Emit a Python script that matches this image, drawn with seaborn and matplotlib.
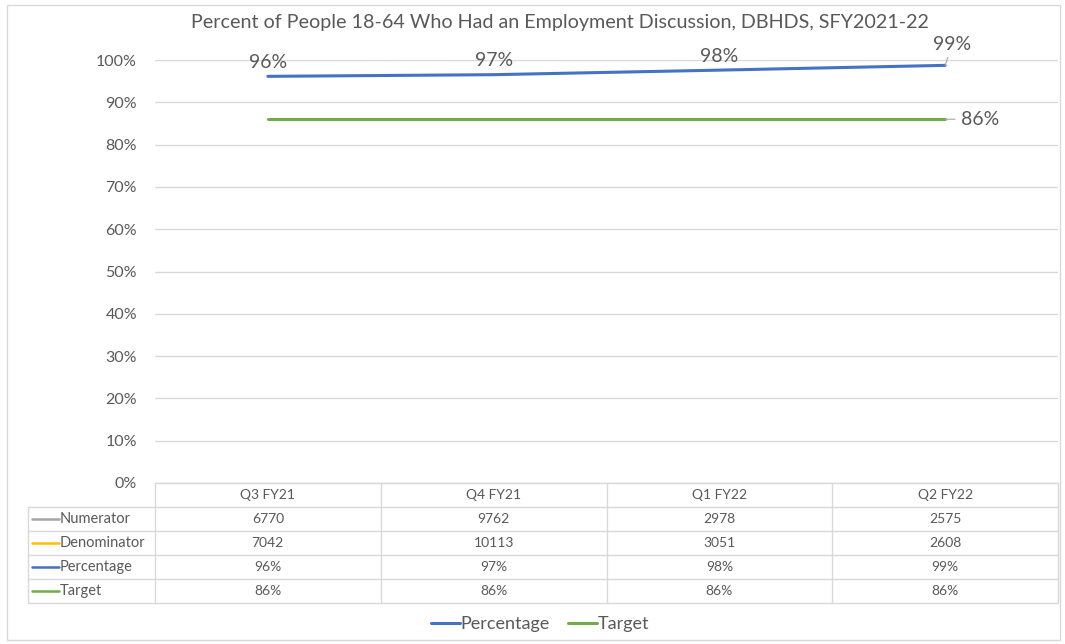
import matplotlib
matplotlib.use("Agg")
import matplotlib.pyplot as plt
import seaborn as sns
import pandas as pd
import numpy as np
from matplotlib.transforms import blended_transform_factory
from matplotlib.ticker import PercentFormatter
from matplotlib.patches import Rectangle
from matplotlib.lines import Line2D

# ---- data ----
quarters = ["Q3 FY21", "Q4 FY21", "Q1 FY22", "Q2 FY22"]
numerator = [6770, 9762, 2978, 2575]
denominator = [7042, 10113, 3051, 2608]
target = [0.86, 0.86, 0.86, 0.86]
percentage = [n / d for n, d in zip(numerator, denominator)]

title = "Percent of People 18-64 Who Had an Employment Discussion, DBHDS, SFY2021-22"
row_names = ["Numerator", "Denominator", "Percentage", "Target"]
row_colors = {"Numerator": "#a5a5a5", "Denominator": "#ffc000",
              "Percentage": "#4472c4", "Target": "#70ad47"}

TXT = "#595959"
GRID = "#d9d9d9"

sns.set_theme(style="white")
plt.rcParams["font.family"] = ["Lato", "DejaVu Sans"]

W, H = 1065, 644
fig = plt.figure(figsize=(W / 100, H / 100), dpi=100)
fig.patch.set_facecolor("white")

# pixel-space overlay for table, title and frame
ov = fig.add_axes([0, 0, 1, 1], zorder=0)
ov.set_xlim(0, W)
ov.set_ylim(H, 0)
ov.axis("off")
ov.patch.set_alpha(0)

# plot area
x0, x1, ytop, ybot = 155, 1058, 60, 483
ax = fig.add_axes([x0 / W, 1 - ybot / H, (x1 - x0) / W, (ybot - ytop) / H], zorder=2)
ax.patch.set_alpha(0)

df = pd.DataFrame({
    "Quarter": quarters * 2,
    "Series": ["Percentage"] * 4 + ["Target"] * 4,
    "Value": percentage + target,
})
sns.lineplot(data=df, x="Quarter", y="Value", hue="Series", sort=False,
             palette={"Percentage": row_colors["Percentage"], "Target": row_colors["Target"]},
             linewidth=2.2, ax=ax)

ax.set_xlim(-0.5, 3.5)
ax.set_ylim(0, 1)
ax.set_yticks(np.arange(0, 1.01, 0.1))
ax.yaxis.set_major_formatter(PercentFormatter(1, decimals=0))
ax.set_xticks([])
ax.set_xlabel("")
ax.set_ylabel("")
ax.yaxis.grid(True, color=GRID, linewidth=1)
ax.set_axisbelow(True)
for s in ax.spines.values():
    s.set_visible(False)
ax.tick_params(axis="y", length=0, pad=13, labelsize=11.5, labelcolor=TXT)

# data labels
for i, v in enumerate(percentage):
    if i < 3:
        ax.annotate(f"{v:.0%}", (i, v), xytext=(0, 14), textcoords="offset pixels",
                    ha="center", va="center", fontsize=14, color=TXT)
    else:
        ax.annotate(f"{v:.0%}", (i, v), xytext=(7, 21), textcoords="offset pixels",
                    ha="center", va="center", fontsize=14, color=TXT,
                    arrowprops=dict(arrowstyle="-", color="#a6a6a6", lw=0.8,
                                    shrinkA=1, shrinkB=9))
ax.annotate(f"{target[-1]:.0%}", (3, target[-1]), xytext=(35, 0), textcoords="offset pixels",
            ha="center", va="center", fontsize=14, color=TXT,
            arrowprops=dict(arrowstyle="-", color="#a6a6a6", lw=0.8,
                            shrinkA=2, shrinkB=15))

ov.text(560, 22, title, ha="center", va="center", fontsize=14.2, color=TXT)

# legend below table
sns.move_legend(ax, "center", bbox_to_anchor=(540 / W, 1 - 624 / H),
                bbox_transform=fig.transFigure, ncol=2, frameon=False, title=None,
                fontsize=13, handlelength=1.6, handletextpad=0.05, columnspacing=1.0)
for t in ax.get_legend().get_texts():
    t.set_color(TXT)

# ---- data table ----
bt = blended_transform_factory(ax.transData, ov.transData)
row_edges = [483, 507, 531, 555, 579, 603]
label_left = 28
# horizontal rules
for k, y in enumerate(row_edges):
    ov.plot([-0.5, 3.5], [y, y], color=GRID, lw=1, transform=bt, clip_on=False)
    if k > 0:
        ov.plot([label_left, x0], [y, y], color=GRID, lw=1, clip_on=False)
# vertical rules
for xb in [-0.5, 0.5, 1.5, 2.5, 3.5]:
    ov.plot([xb, xb], [row_edges[0], row_edges[-1]], color=GRID, lw=1, transform=bt, clip_on=False)
ov.plot([label_left, label_left], [row_edges[1], row_edges[-1]], color=GRID, lw=1)

# header
hy = (row_edges[0] + row_edges[1]) / 2
for i, q in enumerate(quarters):
    ov.text(i, hy, q, transform=bt, ha="center", va="center", fontsize=10, color=TXT)

table_rows = {
    "Numerator": [str(v) for v in numerator],
    "Denominator": [str(v) for v in denominator],
    "Percentage": [f"{v:.0%}" for v in percentage],
    "Target": [f"{v:.0%}" for v in target],
}
for r, name in enumerate(row_names):
    cy = (row_edges[r + 1] + row_edges[r + 2]) / 2
    ov.add_line(Line2D([32, 59], [cy, cy], color=row_colors[name], lw=1.8))
    ov.text(60, cy, name, ha="left", va="center", fontsize=10.5, color=TXT)
    for i, val in enumerate(table_rows[name]):
        ov.text(i, cy, val, transform=bt, ha="center", va="center", fontsize=10, color=TXT)

# chart frame
ov.add_patch(Rectangle((7, 5), 1053, 635, fill=False, edgecolor=GRID, lw=1))

fig.savefig("out.png", dpi=100, facecolor="white")
